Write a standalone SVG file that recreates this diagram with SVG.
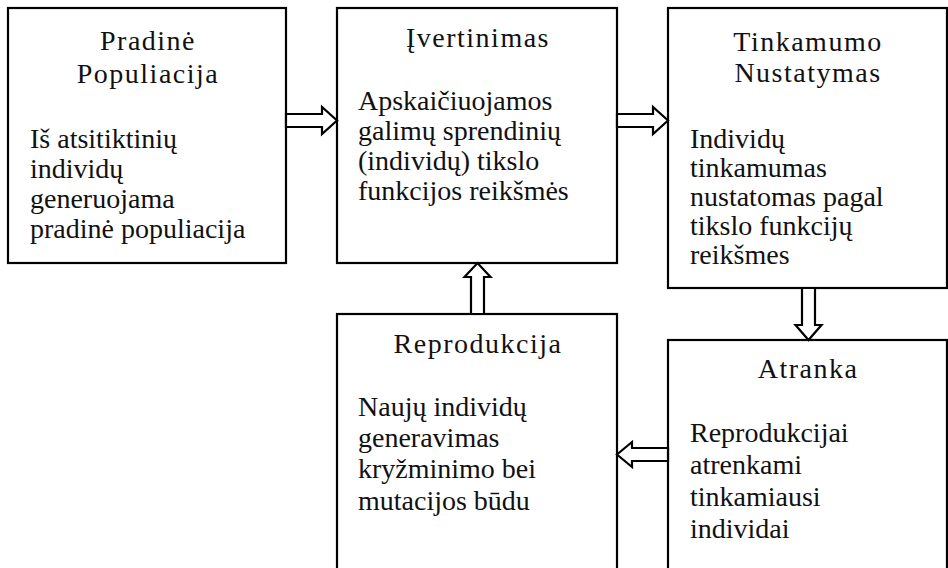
<svg xmlns="http://www.w3.org/2000/svg" width="948" height="568" viewBox="0 0 948 568">
<style>
.box{fill:#fff;stroke:#000;stroke-width:2.2}
.arr{fill:#fff;stroke:#000;stroke-width:2.2;stroke-linejoin:miter}
text{font-size:28px;fill:#111}
.t{text-anchor:middle;letter-spacing:1.5px}
</style>
<rect width="948" height="568" fill="#fff"/>
<g id="n1">
<rect class="box" x="8" y="8" width="278" height="255"/>
<text class="t" x="148" y="50" style="font-family:'Liberation Serif',serif">Pradinė</text>
<text class="t" x="148" y="83" style="font-family:'Liberation Serif',serif">Populiacija</text>
<text x="30" y="148" style="font-family:'Liberation Serif',serif">Iš atsitiktinių</text>
<text x="30" y="178" style="font-family:'Liberation Serif',serif">individų</text>
<text x="30" y="208" style="font-family:'Liberation Serif',serif">generuojama</text>
<text x="30" y="238" style="font-family:'Liberation Serif',serif">pradinė populiacija</text>
</g>
<g id="n2">
<rect class="box" x="337" y="8" width="280" height="255"/>
<text class="t" x="478" y="47" style="font-family:'Liberation Serif',serif">Įvertinimas</text>
<text x="358" y="110" style="font-family:'Liberation Serif',serif">Apskaičiuojamos</text>
<text x="358" y="140" style="font-family:'Liberation Serif',serif">galimų sprendinių</text>
<text x="358" y="170" style="font-family:'Liberation Serif',serif">(individų) tikslo</text>
<text x="358" y="200" style="font-family:'Liberation Serif',serif">funkcijos reikšmės</text>
</g>
<g id="n3">
<rect class="box" x="668" y="8" width="279" height="280"/>
<text class="t" x="808" y="51" style="font-family:'Liberation Serif',serif">Tinkamumo</text>
<text class="t" x="808" y="82" style="font-family:'Liberation Serif',serif">Nustatymas</text>
<text x="690" y="148" style="font-family:'Liberation Serif',serif">Individų</text>
<text x="690" y="177" style="font-family:'Liberation Serif',serif">tinkamumas</text>
<text x="690" y="206" style="font-family:'Liberation Serif',serif">nustatomas pagal</text>
<text x="690" y="235" style="font-family:'Liberation Serif',serif">tikslo funkcijų</text>
<text x="690" y="264" style="font-family:'Liberation Serif',serif">reikšmes</text>
</g>
<g id="n4">
<rect class="box" x="337" y="314" width="280" height="270"/>
<text class="t" x="478" y="353" style="font-family:'Liberation Serif',serif">Reprodukcija</text>
<text x="358" y="416" style="font-family:'Liberation Serif',serif">Naujų individų</text>
<text x="358" y="447" style="font-family:'Liberation Serif',serif">generavimas</text>
<text x="358" y="478" style="font-family:'Liberation Serif',serif">kryžminimo bei</text>
<text x="358" y="510" style="font-family:'Liberation Serif',serif">mutacijos būdu</text>
</g>
<g id="n5">
<rect class="box" x="668" y="340" width="279" height="244"/>
<text class="t" x="808" y="378" style="font-family:'Liberation Serif',serif">Atranka</text>
<text x="690" y="442" style="font-family:'Liberation Serif',serif">Reprodukcijai</text>
<text x="690" y="474" style="font-family:'Liberation Serif',serif">atrenkami</text>
<text x="690" y="506" style="font-family:'Liberation Serif',serif">tinkamiausi</text>
<text x="690" y="538" style="font-family:'Liberation Serif',serif">individai</text>
</g>
<g id="connectors">
<polygon class="arr" points="286,114 322,114 322,107 337,120.5 322,134 322,127 286,127"/>
<polygon class="arr" points="617,114 653,114 653,107 668,120.5 653,134 653,127 617,127"/>
<polygon class="arr" points="802,288 802,325 795.5,325 808.5,340 821.5,325 815,325 815,288"/>
<polygon class="arr" points="471,314 471,277 464.5,277 477.5,263 490.5,277 484,277 484,314"/>
<polygon class="arr" points="668,448 632,448 632,442 617,454.5 632,467 632,461 668,461"/>
</g>
</svg>
